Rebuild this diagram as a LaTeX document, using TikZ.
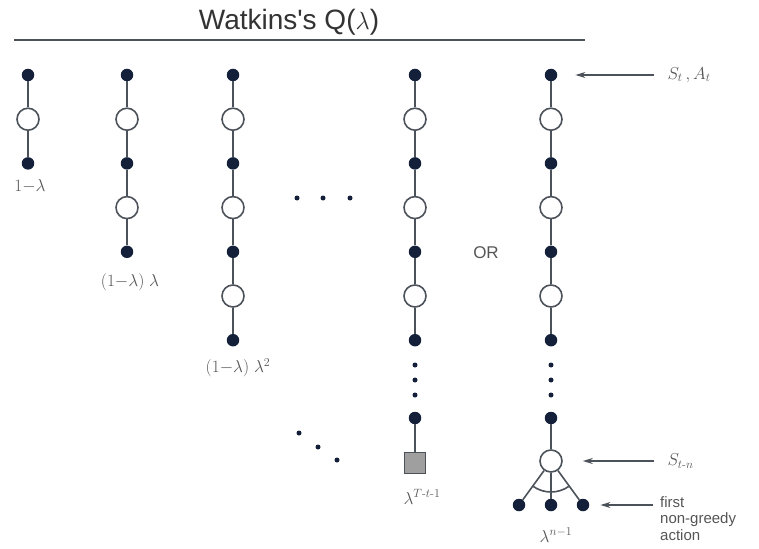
\documentclass[tikz,border=0pt]{standalone}
\usepackage{amsmath}
\usepackage{fontspec}
\setsansfont{Liberation Sans}
\usetikzlibrary{arrows.meta,positioning}
\definecolor{ink}{HTML}{14203A}
\definecolor{rod}{HTML}{4C525A}
\definecolor{lbl}{HTML}{555555}
\tikzset{
  >={Stealth[length=10pt,width=6pt]},
  every node/.style={font=\fontsize{17}{19}\selectfont,text=lbl},
  act/.style={circle,fill=ink,minimum size=12.5pt,inner sep=0pt},
  st/.style={circle,draw=rod,line width=1.6pt,fill=white,minimum size=22pt,inner sep=0pt},
  term/.style={rectangle,draw=rod,line width=1.6pt,fill=gray!75,minimum size=21pt,inner sep=0pt},
  speck/.style={circle,fill=ink,minimum size=5pt,inner sep=0pt},
  link/.style={draw=rod,line width=1.6pt},
  ptr/.style={->,draw=rod,line width=1.4pt},
  sans/.style={font=\sffamily\fontsize{16}{17}\selectfont},
}
\begin{document}
\begin{tikzpicture}[x=1pt,y=-1pt]
  \useasboundingbox (0,0) rectangle (759,548);
  % title and rule
  \node[sans,font=\sffamily\fontsize{28}{30}\selectfont,text=black!80] (title) at (289,22) {Watkins\textquotesingle s Q($\lambda$)};
  \draw[rod,line width=1.5pt] (14,40) -- (585,40);
  % backups: actions on even rows, states on odd rows
  \foreach \x/\n [count=\c] in {28/2,127/4,233/6,415/6,551/6}{
    \foreach \k in {0,...,\n}{
      \ifodd\k \node[st] (n\c-\k) at (\x,{75+44.2*\k}) {};
      \else \node[act] (n\c-\k) at (\x,{75+44.2*\k}) {}; \fi
    }
    \foreach \k [remember=\k as \j (initially 0)] in {1,...,\n}
      \draw[link] (n\c-\j) -- (n\c-\k);
  }
  % long backups
  \foreach \x/\c in {415/4,551/5}{
    \foreach \y [count=\i] in {365,380,395}
      \node[speck] (v\c-\i) at (\x,\y) {};
    \node[act] (n\c-7) at (\x,418) {};
  }
  \node[term] (n4-8) at (415,463) {};
  \node[st] (n5-8) at (551,461) {};
  \draw[link] (n4-7) -- (n4-8);
  \draw[link] (n5-7) -- (n5-8);
  \foreach \x [count=\i] in {519,551,583}{
    \node[act] (g\i) at (\x,505) {};
    \draw[link] (n5-8) -- (g\i);
  }
  \draw[link] ([shift={(125:31)}]n5-8.center) arc[start angle=125,end angle=55,radius=31];
  % ellipses between columns
  \foreach \x [count=\i] in {297,323,350}
    \node[speck] (h\i) at (\x,198) {};
  \foreach \x/\y [count=\i] in {299/433,318/447,337/460}
    \node[speck] (d\i) at (\x,\y) {};
  % weights
  \node (w1) at (30,186) {$1{-}\lambda$};
  \node (w2) at (130,282) {$(1{-}\lambda)\;\lambda$};
  \node (w3) at (238,368) {$(1{-}\lambda)\;\lambda^2$};
  \node (w4) at (422,497) {$\lambda^{T\text{-}t\text{-}1}$};
  \node (w5) at (556,535) {$\lambda^{n-1}$};
  \node[sans,font=\sffamily\fontsize{17}{19}\selectfont] (or) at (486,253) {OR};
  % pointers
  \node[anchor=west] (sa) at (664,75) {$S_t\,,A_t$};
  \node[anchor=west] (sn) at (664,461) {$S_{t\text{-}n}$};
  \node[sans,anchor=north west,align=left,inner sep=0pt,font=\sffamily\fontsize{15}{16.5}\selectfont] (fg) at (660,496) {first\\non-greedy\\action};
  \coordinate (fgp) at (653,505);
  \draw[ptr,shorten <=10pt,shorten >=18pt] (sa.west) -- (sa.west -| n5-0.east);
  \draw[ptr,shorten <=10pt,shorten >=20pt] (sn.west) -- (sn.west -| n5-8.east);
  \draw[ptr,shorten >=11pt] (fgp) -- (g3.east);
\end{tikzpicture}
\end{document}
